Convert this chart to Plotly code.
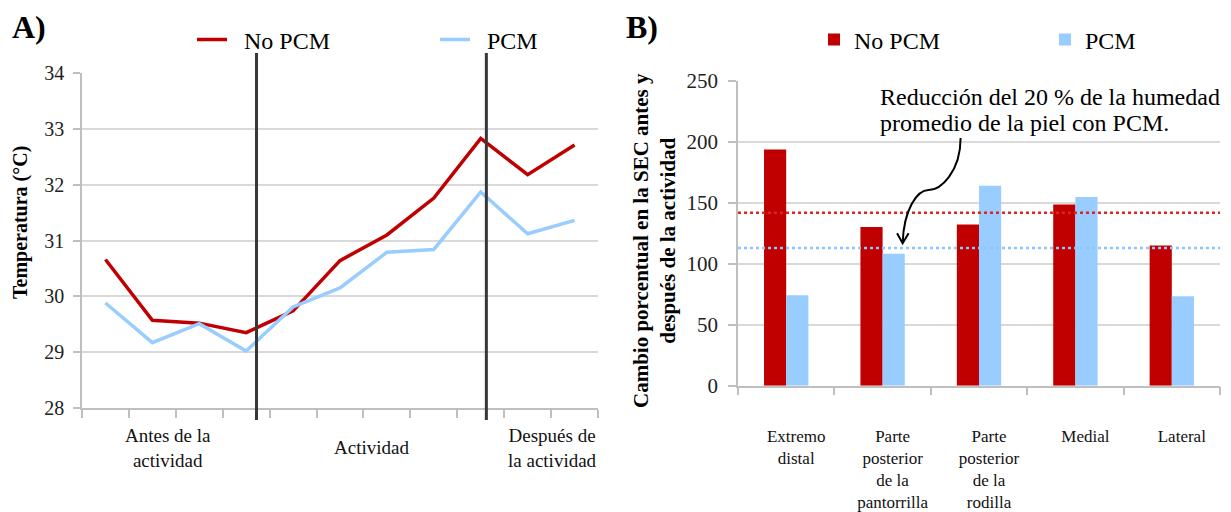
import plotly.graph_objects as go

# ---------------- Data ----------------
# Panel A: skin temperature over 11 time points
time_points = list(range(11))
temp_no_pcm = [30.66, 29.57, 29.52, 29.35, 29.74, 30.64, 31.10, 31.76, 32.83, 32.18, 32.71]
temp_pcm = [29.88, 29.17, 29.51, 29.02, 29.81, 30.15, 30.79, 30.84, 31.87, 31.12, 31.36]
phase_labels = ["Antes de la<br>actividad", "Actividad", "Después de<br>la actividad"]
phase_label_pos = [1.33, 5.67, 9.53]
phase_boundaries = [3.22, 8.12]

# Panel B: percentage change in SEC
regions = ["Extremo<br>distal", "Parte<br>posterior<br>de la<br>pantorrilla",
           "Parte<br>posterior<br>de la<br>rodilla", "Medial", "Lateral"]
sec_no_pcm = [193.6, 130.0, 132.2, 148.6, 115.0]
sec_pcm = [74.2, 108.2, 163.9, 154.6, 73.3]
mean_no_pcm = 141.8
mean_pcm = 112.9

series_names = ["No PCM", "PCM"]
RED = "#C00000"
BLUE = "#99CCFF"
FONT = "Liberation Serif"
GRID = "#D9D9D9"
AXIS = "#BFBFBF"

# The page places the figure 8 px from the top-left corner (default body margin).
OFF = 8
W, H = 1231 - OFF, 512 - OFF


def px(x):
    return (x - OFF) / W


def py(y):
    return 1 - (y - OFF) / H


fig = go.Figure()

# Panel A lines
fig.add_trace(go.Scatter(x=time_points, y=temp_no_pcm, mode="lines", name="\u2002" + series_names[0],
                         line=dict(color=RED, width=3.5), xaxis="x", yaxis="y", legend="legend"))
fig.add_trace(go.Scatter(x=time_points, y=temp_pcm, mode="lines", name="\u2002" + series_names[1],
                         line=dict(color=BLUE, width=3.5), xaxis="x", yaxis="y", legend="legend"))

# Panel B bars
fig.add_trace(go.Bar(x=regions, y=sec_no_pcm, name=series_names[0], marker=dict(color=RED, line=dict(width=0)),
                     xaxis="x2", yaxis="y2", legend="legend2"))
fig.add_trace(go.Bar(x=regions, y=sec_pcm, name=series_names[1], marker=dict(color=BLUE, line=dict(width=0)),
                     xaxis="x2", yaxis="y2", legend="legend2"))

shapes = []
for xb in phase_boundaries:
    shapes.append(dict(type="line", xref="x", yref="paper", x0=xb, x1=xb,
                       y0=py(420), y1=py(53),
                       line=dict(color="#383838", width=3), layer="above"))
shapes.append(dict(type="line", xref="x2 domain", yref="y2", x0=0, x1=1, y0=mean_no_pcm, y1=mean_no_pcm,
                   line=dict(color="#E02424", width=2.5, dash="dot"), layer="above"))
shapes.append(dict(type="line", xref="x2 domain", yref="y2", x0=0, x1=1, y0=mean_pcm, y1=mean_pcm,
                   line=dict(color="#8CC6FF", width=2.5, dash="dot"), layer="above"))
arrow_path = ("M 1.809,203 C 1.809,175 1.60,160.5 1.477,160.4 "
              "C 1.36,160.3 1.22,145 1.208,117 "
              "M 1.150,125 L 1.208,116.8 L 1.270,125")
shapes.append(dict(type="path", xref="x2", yref="y2", path=arrow_path,
                   line=dict(color="black", width=2), layer="above"))

annotations = [
    dict(text="<b>A)</b>", x=px(10), y=py(27), xref="paper", yref="paper",
         xanchor="left", yanchor="middle", showarrow=False, font=dict(family=FONT, size=32, color="black")),
    dict(text="<b>B)</b>", x=px(624), y=py(27), xref="paper", yref="paper",
         xanchor="left", yanchor="middle", showarrow=False, font=dict(family=FONT, size=32, color="black")),
    dict(text="<b>Temperatura (°C)</b>", x=px(20), y=py(223), xref="paper", yref="paper",
         xanchor="center", yanchor="middle", textangle=-90, showarrow=False,
         font=dict(family=FONT, size=20, color="black")),
    dict(text="<b>Cambio porcentual en la SEC antes y<br>después de la actividad</b>",
         x=px(654), y=py(241), xref="paper", yref="paper",
         xanchor="center", yanchor="middle", textangle=-90, showarrow=False,
         font=dict(family=FONT, size=21, color="black")),
    dict(text="Reducción del 20 % de la humedad",
         x=px(878), y=py(97), xref="paper", yref="paper",
         xanchor="left", yanchor="middle", align="left", showarrow=False,
         font=dict(family=FONT, size=24, color="black")),
    dict(text="promedio de la piel con PCM.",
         x=px(878), y=py(123), xref="paper", yref="paper",
         xanchor="left", yanchor="middle", align="left", showarrow=False,
         font=dict(family=FONT, size=24, color="black")),
]
for lbl, pos in zip(phase_labels, phase_label_pos):
    annotations.append(dict(text=lbl, x=pos, y=py(447.5), xref="x", yref="paper",
                            xanchor="center", yanchor="middle", showarrow=False,
                            font=dict(family=FONT, size=19, color="#111")))

fig.update_layout(
    width=W, height=H, autosize=False,
    margin=dict(l=0, r=0, t=0, b=0, autoexpand=False),
    paper_bgcolor="white", plot_bgcolor="white",
    font=dict(family=FONT, color="#111"),
    showlegend=True,
    barmode="group", bargap=0.54, bargroupgap=0,
    xaxis=dict(domain=[px(82), px(598)], range=[-0.5, 10.5],
               tickvals=[i - 0.5 for i in range(12)], showticklabels=False,
               ticks="outside", ticklen=8, tickcolor=AXIS, tickwidth=1.5,
               showline=True, linecolor=AXIS, linewidth=1.5, showgrid=False, zeroline=False,
               anchor="y", automargin=False),
    yaxis=dict(domain=[py(408), py(73)], range=[28, 34], dtick=1,
               showgrid=True, gridcolor=GRID, gridwidth=1.5,
               showline=True, linecolor=AXIS, linewidth=1.5,
               ticks="outside", ticklen=7, tickcolor=AXIS, tickwidth=1.5,
               tickfont=dict(family=FONT, size=20, color="#222"), zeroline=False, anchor="x",
               ticklabelstandoff=5, automargin=False),
    xaxis2=dict(domain=[px(738), px(1220)], type="category", tickson="boundaries",
                ticks="outside", ticklen=8, tickcolor=AXIS, tickwidth=1.5,
                showline=True, linecolor=AXIS, linewidth=1.5, showgrid=False,
                tickfont=dict(family=FONT, size=17, color="#111"),
                ticklabelstandoff=34, ticklabelshift=10, tickangle=0, anchor="y2",
                automargin=False),
    yaxis2=dict(domain=[py(385.7), py(80.7)], range=[0, 250], dtick=50,
                showgrid=True, gridcolor=GRID, gridwidth=1.5,
                showline=True, linecolor=AXIS, linewidth=1.5,
                ticks="outside", ticklen=8, tickcolor=AXIS, tickwidth=1.5,
                tickfont=dict(family=FONT, size=21, color="#222"), zeroline=False, anchor="x2",
                ticklabelstandoff=6, automargin=False),
    legend=dict(orientation="h", x=px(192), y=py(40), xanchor="left", yanchor="middle",
                xref="container", yref="container",
                entrywidth=198, entrywidthmode="pixels",
                font=dict(family=FONT, size=24, color="black"), bgcolor="rgba(0,0,0,0)"),
    legend2=dict(orientation="h", x=px(814), y=py(40), xanchor="left", yanchor="middle",
                 xref="container", yref="container",
                 entrywidth=186, entrywidthmode="pixels",
                 font=dict(family=FONT, size=24, color="black"), bgcolor="rgba(0,0,0,0)"),
    shapes=shapes,
    annotations=annotations,
)

fig.write_html("out.html")
